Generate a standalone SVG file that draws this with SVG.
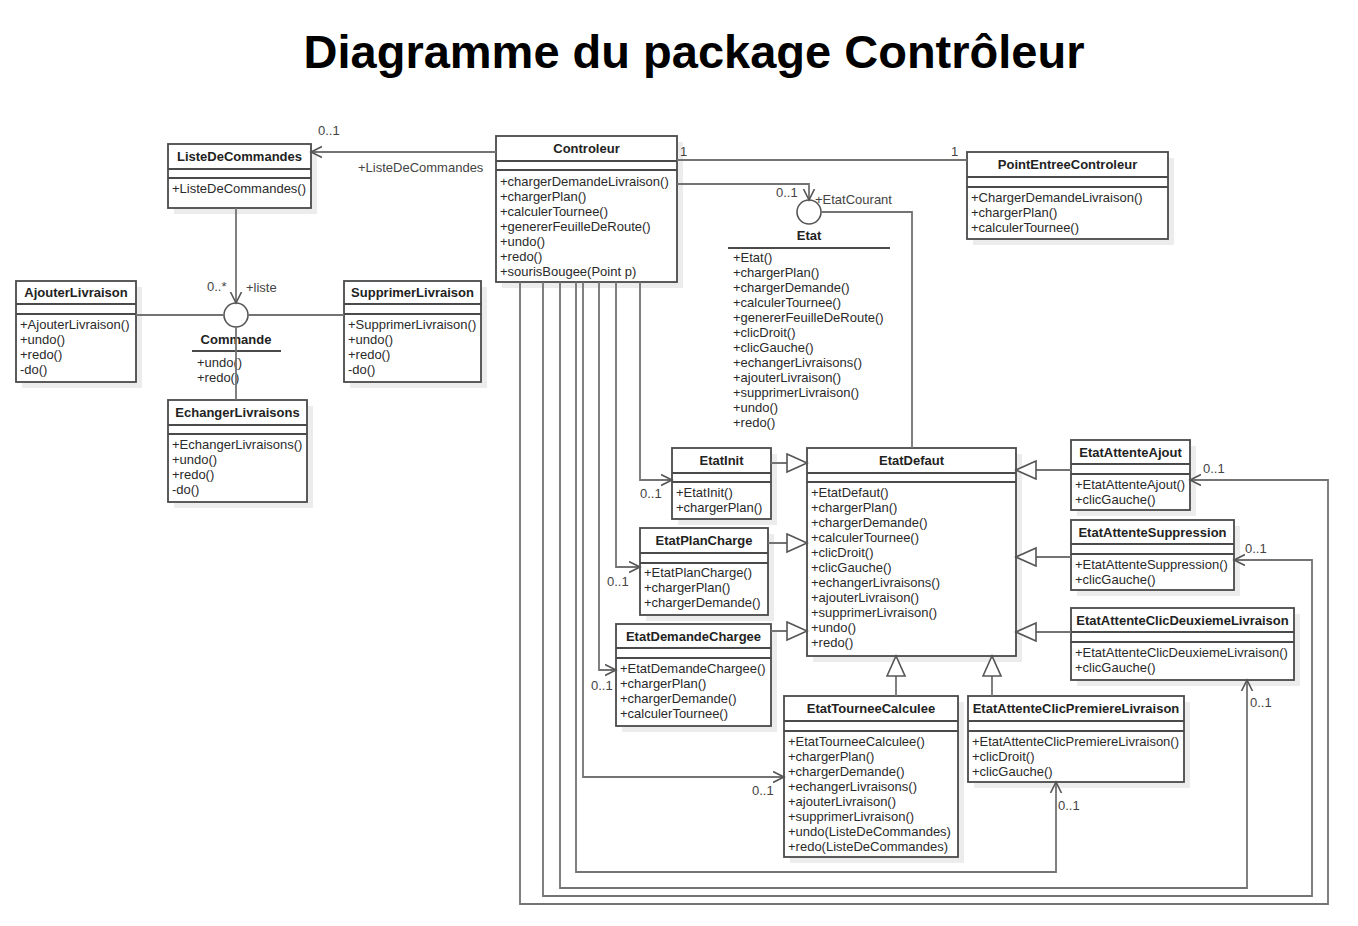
<svg xmlns="http://www.w3.org/2000/svg" width="1358" height="926" viewBox="0 0 1358 926">
<style>
.bg{fill:#ffffff}
.sh{fill:#ececec}
.box{fill:#ffffff;stroke:#4a4a4a;stroke-width:1.8}
.sep{stroke:#4a4a4a;stroke-width:1.8}
.t{font-family:"Liberation Sans",Arial,sans-serif;font-size:13px;fill:#2a2a2a}
.n{font-family:"Liberation Sans",Arial,sans-serif;font-size:13px;font-weight:bold;fill:#222;text-anchor:middle}
.c{fill:none;stroke:#737373;stroke-width:1.8}
.gen{fill:none;stroke:#737373;stroke-width:1.8;marker-end:url(#tri)}
.asc{fill:none;stroke:#737373;stroke-width:1.8;marker-end:url(#arr)}
.lbl{font-family:"Liberation Sans",Arial,sans-serif;font-size:13px;fill:#444}
.title{font-family:"Liberation Sans",Arial,sans-serif;font-size:47px;font-weight:bold;fill:#000;text-anchor:middle}
.ic{fill:#ffffff;stroke:#555;stroke-width:1.6}
</style>
<defs>
<marker id="arr" markerUnits="userSpaceOnUse" markerWidth="14" markerHeight="14" refX="11" refY="6" orient="auto" viewBox="0 0 14 14">
<path d="M0,0.5 L11,6 L0,11.5" fill="none" stroke="#555" stroke-width="1.6"/>
</marker>
<marker id="tri" markerUnits="userSpaceOnUse" markerWidth="24" markerHeight="22" refX="21" refY="10" orient="auto" viewBox="0 0 24 22">
<path d="M1,1 L21,10 L1,19 Z" fill="#ffffff" stroke="#555" stroke-width="1.6"/>
</marker>
</defs>
<rect class="bg" x="0" y="0" width="1358" height="926"/>
<text class="title" x="694" y="68">Diagramme du package Contrôleur</text>

<g id="ListeDeCommandes">
<rect class="sh" x="174" y="150" width="143" height="64"/>
<rect class="box" x="168" y="144" width="143" height="64"/>
<line class="sep" x1="168" y1="169" x2="311" y2="169"/>
<line class="sep" x1="168" y1="178" x2="311" y2="178"/>
<text class="n" x="239.5" y="161">ListeDeCommandes</text>
<text class="t" x="172" y="193">+ListeDeCommandes()</text>
</g>

<g id="AjouterLivraison">
<rect class="sh" x="22" y="287" width="120" height="101"/>
<rect class="box" x="16" y="281" width="120" height="101"/>
<line class="sep" x1="16" y1="304" x2="136" y2="304"/>
<line class="sep" x1="16" y1="314" x2="136" y2="314"/>
<text class="n" x="76" y="297">AjouterLivraison</text>
<text class="t" x="20" y="329">+AjouterLivraison()</text>
<text class="t" x="20" y="344">+undo()</text>
<text class="t" x="20" y="359">+redo()</text>
<text class="t" x="20" y="374">-do()</text>
</g>

<g id="SupprimerLivraison">
<rect class="sh" x="350" y="287" width="137" height="101"/>
<rect class="box" x="344" y="281" width="137" height="101"/>
<line class="sep" x1="344" y1="304" x2="481" y2="304"/>
<line class="sep" x1="344" y1="314" x2="481" y2="314"/>
<text class="n" x="412.5" y="297">SupprimerLivraison</text>
<text class="t" x="348" y="329">+SupprimerLivraison()</text>
<text class="t" x="348" y="344">+undo()</text>
<text class="t" x="348" y="359">+redo()</text>
<text class="t" x="348" y="374">-do()</text>
</g>

<g id="EchangerLivraisons">
<rect class="sh" x="174" y="406" width="139" height="102"/>
<rect class="box" x="168" y="400" width="139" height="102"/>
<line class="sep" x1="168" y1="425" x2="307" y2="425"/>
<line class="sep" x1="168" y1="434" x2="307" y2="434"/>
<text class="n" x="237.5" y="417">EchangerLivraisons</text>
<text class="t" x="172" y="449">+EchangerLivraisons()</text>
<text class="t" x="172" y="464">+undo()</text>
<text class="t" x="172" y="479">+redo()</text>
<text class="t" x="172" y="494">-do()</text>
</g>

<g id="Commande">
<circle class="ic" cx="236" cy="315" r="12"/>
<text class="n" x="236" y="344">Commande</text>
<line class="sep" x1="192" y1="351" x2="281" y2="351"/>
<text class="t" x="197" y="367">+undo()</text>
<text class="t" x="197" y="382">+redo()</text>
</g>

<g id="Controleur">
<rect class="sh" x="502" y="142" width="181" height="146"/>
<rect class="box" x="496" y="136" width="181" height="146"/>
<line class="sep" x1="496" y1="161" x2="677" y2="161"/>
<line class="sep" x1="496" y1="170" x2="677" y2="170"/>
<text class="n" x="586.5" y="153">Controleur</text>
<text class="t" x="500" y="186">+chargerDemandeLivraison()</text>
<text class="t" x="500" y="201">+chargerPlan()</text>
<text class="t" x="500" y="216">+calculerTournee()</text>
<text class="t" x="500" y="231">+genererFeuilleDeRoute()</text>
<text class="t" x="500" y="246">+undo()</text>
<text class="t" x="500" y="261">+redo()</text>
<text class="t" x="500" y="276">+sourisBougee(Point p)</text>
</g>

<g id="PointEntreeControleur">
<rect class="sh" x="973" y="158" width="201" height="87"/>
<rect class="box" x="967" y="152" width="201" height="87"/>
<line class="sep" x1="967" y1="177" x2="1168" y2="177"/>
<line class="sep" x1="967" y1="187" x2="1168" y2="187"/>
<text class="n" x="1067.5" y="169">PointEntreeControleur</text>
<text class="t" x="971" y="202">+ChargerDemandeLivraison()</text>
<text class="t" x="971" y="217">+chargerPlan()</text>
<text class="t" x="971" y="232">+calculerTournee()</text>
</g>

<g id="Etat">
<circle class="ic" cx="809" cy="212" r="12"/>
<text class="n" x="809" y="240">Etat</text>
<line class="sep" x1="728" y1="248" x2="890" y2="248"/>
<text class="t" x="733" y="262">+Etat()</text>
<text class="t" x="733" y="277">+chargerPlan()</text>
<text class="t" x="733" y="292">+chargerDemande()</text>
<text class="t" x="733" y="307">+calculerTournee()</text>
<text class="t" x="733" y="322">+genererFeuilleDeRoute()</text>
<text class="t" x="733" y="337">+clicDroit()</text>
<text class="t" x="733" y="352">+clicGauche()</text>
<text class="t" x="733" y="367">+echangerLivraisons()</text>
<text class="t" x="733" y="382">+ajouterLivraison()</text>
<text class="t" x="733" y="397">+supprimerLivraison()</text>
<text class="t" x="733" y="412">+undo()</text>
<text class="t" x="733" y="427">+redo()</text>
</g>

<g id="EtatDefaut">
<rect class="sh" x="813" y="454" width="209" height="208"/>
<rect class="box" x="807" y="448" width="209" height="208"/>
<line class="sep" x1="807" y1="473" x2="1016" y2="473"/>
<line class="sep" x1="807" y1="482" x2="1016" y2="482"/>
<text class="n" x="911.5" y="465">EtatDefaut</text>
<text class="t" x="811" y="497">+EtatDefaut()</text>
<text class="t" x="811" y="512">+chargerPlan()</text>
<text class="t" x="811" y="527">+chargerDemande()</text>
<text class="t" x="811" y="542">+calculerTournee()</text>
<text class="t" x="811" y="557">+clicDroit()</text>
<text class="t" x="811" y="572">+clicGauche()</text>
<text class="t" x="811" y="587">+echangerLivraisons()</text>
<text class="t" x="811" y="602">+ajouterLivraison()</text>
<text class="t" x="811" y="617">+supprimerLivraison()</text>
<text class="t" x="811" y="632">+undo()</text>
<text class="t" x="811" y="647">+redo()</text>
</g>

<g id="EtatInit">
<rect class="sh" x="678" y="454" width="99" height="71"/>
<rect class="box" x="672" y="448" width="99" height="71"/>
<line class="sep" x1="672" y1="473" x2="771" y2="473"/>
<line class="sep" x1="672" y1="482" x2="771" y2="482"/>
<text class="n" x="721.5" y="465">EtatInit</text>
<text class="t" x="676" y="497">+EtatInit()</text>
<text class="t" x="676" y="512">+chargerPlan()</text>
</g>

<g id="EtatPlanCharge">
<rect class="sh" x="646" y="534" width="128" height="87"/>
<rect class="box" x="640" y="528" width="128" height="87"/>
<line class="sep" x1="640" y1="553" x2="768" y2="553"/>
<line class="sep" x1="640" y1="563" x2="768" y2="563"/>
<text class="n" x="704" y="545">EtatPlanCharge</text>
<text class="t" x="644" y="577">+EtatPlanCharge()</text>
<text class="t" x="644" y="592">+chargerPlan()</text>
<text class="t" x="644" y="607">+chargerDemande()</text>
</g>

<g id="EtatDemandeChargee">
<rect class="sh" x="622" y="630" width="155" height="102"/>
<rect class="box" x="616" y="624" width="155" height="102"/>
<line class="sep" x1="616" y1="648" x2="771" y2="648"/>
<line class="sep" x1="616" y1="658" x2="771" y2="658"/>
<text class="n" x="693.5" y="641">EtatDemandeChargee</text>
<text class="t" x="620" y="673">+EtatDemandeChargee()</text>
<text class="t" x="620" y="688">+chargerPlan()</text>
<text class="t" x="620" y="703">+chargerDemande()</text>
<text class="t" x="620" y="718">+calculerTournee()</text>
</g>

<g id="EtatTourneeCalculee">
<rect class="sh" x="790" y="702" width="174" height="161"/>
<rect class="box" x="784" y="696" width="174" height="161"/>
<line class="sep" x1="784" y1="721" x2="958" y2="721"/>
<line class="sep" x1="784" y1="731" x2="958" y2="731"/>
<text class="n" x="871" y="713">EtatTourneeCalculee</text>
<text class="t" x="788" y="746">+EtatTourneeCalculee()</text>
<text class="t" x="788" y="761">+chargerPlan()</text>
<text class="t" x="788" y="776">+chargerDemande()</text>
<text class="t" x="788" y="791">+echangerLivraisons()</text>
<text class="t" x="788" y="806">+ajouterLivraison()</text>
<text class="t" x="788" y="821">+supprimerLivraison()</text>
<text class="t" x="788" y="836">+undo(ListeDeCommandes)</text>
<text class="t" x="788" y="851">+redo(ListeDeCommandes)</text>
</g>

<g id="EtatAttenteClicPremiereLivraison">
<rect class="sh" x="974" y="702" width="216" height="86"/>
<rect class="box" x="968" y="696" width="216" height="86"/>
<line class="sep" x1="968" y1="721" x2="1184" y2="721"/>
<line class="sep" x1="968" y1="731" x2="1184" y2="731"/>
<text class="n" x="1076" y="713">EtatAttenteClicPremiereLivraison</text>
<text class="t" x="972" y="746">+EtatAttenteClicPremiereLivraison()</text>
<text class="t" x="972" y="761">+clicDroit()</text>
<text class="t" x="972" y="776">+clicGauche()</text>
</g>

<g id="EtatAttenteAjout">
<rect class="sh" x="1077" y="446" width="119" height="70"/>
<rect class="box" x="1071" y="440" width="119" height="70"/>
<line class="sep" x1="1071" y1="464" x2="1190" y2="464"/>
<line class="sep" x1="1071" y1="474" x2="1190" y2="474"/>
<text class="n" x="1130.5" y="457">EtatAttenteAjout</text>
<text class="t" x="1075" y="489">+EtatAttenteAjout()</text>
<text class="t" x="1075" y="504">+clicGauche()</text>
</g>

<g id="EtatAttenteSuppression">
<rect class="sh" x="1077" y="526" width="163" height="70"/>
<rect class="box" x="1071" y="520" width="163" height="70"/>
<line class="sep" x1="1071" y1="544" x2="1234" y2="544"/>
<line class="sep" x1="1071" y1="554" x2="1234" y2="554"/>
<text class="n" x="1152.5" y="537">EtatAttenteSuppression</text>
<text class="t" x="1075" y="569">+EtatAttenteSuppression()</text>
<text class="t" x="1075" y="584">+clicGauche()</text>
</g>

<g id="EtatAttenteClicDeuxiemeLivraison">
<rect class="sh" x="1077" y="614" width="223" height="72"/>
<rect class="box" x="1071" y="608" width="223" height="72"/>
<line class="sep" x1="1071" y1="632" x2="1294" y2="632"/>
<line class="sep" x1="1071" y1="642" x2="1294" y2="642"/>
<text class="n" x="1182.5" y="625">EtatAttenteClicDeuxiemeLivraison</text>
<text class="t" x="1075" y="657">+EtatAttenteClicDeuxiemeLivraison()</text>
<text class="t" x="1075" y="672">+clicGauche()</text>
</g>

<g id="connectors">
<path class="asc" d="M496,152 L311,152"/>
<path class="c" d="M677,160 L967,160"/>
<path class="asc" d="M677,184 L809,184 L809,200"/>
<path class="c" d="M821,212 L912,212 L912,448"/>
<path class="asc" d="M236,208 L236,303"/>
<path class="c" d="M136,315 L224,315"/>
<path class="c" d="M248,315 L344,315"/>
<path class="c" d="M236,327 L236,400"/>
<path class="gen" d="M771,463 L807,463"/>
<path class="gen" d="M768,543 L807,543"/>
<path class="gen" d="M771,631 L807,631"/>
<path class="gen" d="M896,696 L896,656"/>
<path class="gen" d="M992,696 L992,656"/>
<path class="gen" d="M1071,470 L1016,470"/>
<path class="gen" d="M1071,557 L1016,557"/>
<path class="gen" d="M1071,632 L1016,632"/>
<path class="asc" d="M640,282 L640,480 L672,480"/>
<path class="asc" d="M616,282 L616,567 L640,567"/>
<path class="asc" d="M599,282 L599,670 L616,670"/>
<path class="asc" d="M583,282 L583,777 L784,777"/>
<path class="asc" d="M576,282 L576,872 L1056,872 L1056,782"/>
<path class="asc" d="M560,282 L560,888 L1247,888 L1247,680"/>
<path class="asc" d="M543,282 L543,896 L1312,896 L1312,560 L1234,560"/>
<path class="asc" d="M520,282 L520,904 L1328,904 L1328,480 L1190,480"/>
<text class="lbl" x="318" y="135">0..1</text>
<text class="lbl" x="358" y="172">+ListeDeCommandes</text>
<text class="lbl" x="680" y="156">1</text>
<text class="lbl" x="951" y="156">1</text>
<text class="lbl" x="776" y="197">0..1</text>
<text class="lbl" x="815" y="204">+EtatCourant</text>
<text class="lbl" x="207" y="291">0..*</text>
<text class="lbl" x="246" y="292">+liste</text>
<text class="lbl" x="640" y="498">0..1</text>
<text class="lbl" x="607" y="586">0..1</text>
<text class="lbl" x="591" y="690">0..1</text>
<text class="lbl" x="752" y="795">0..1</text>
<text class="lbl" x="1058" y="810">0..1</text>
<text class="lbl" x="1250" y="707">0..1</text>
<text class="lbl" x="1245" y="553">0..1</text>
<text class="lbl" x="1203" y="473">0..1</text>
</g>
</svg>
